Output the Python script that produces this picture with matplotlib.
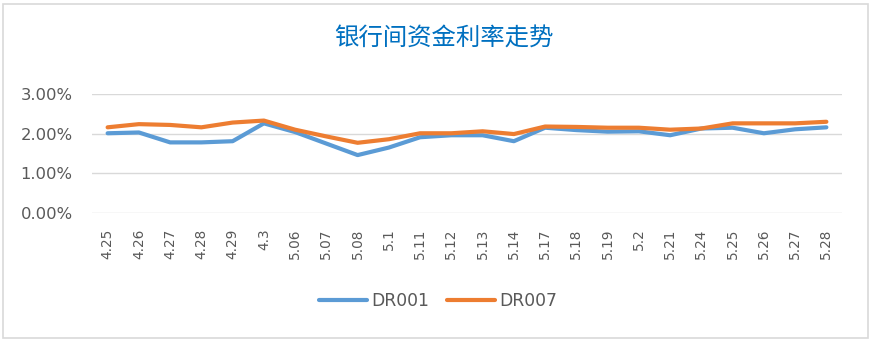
import matplotlib
matplotlib.use("Agg")
import matplotlib.pyplot as plt
from matplotlib.patches import Rectangle
from matplotlib.ticker import PercentFormatter

# Trading days and overnight / 7-day repo rates (%)
dates = ["4.25", "4.26", "4.27", "4.28", "4.29", "4.3", "5.06", "5.07", "5.08", "5.1",
         "5.11", "5.12", "5.13", "5.14", "5.17", "5.18", "5.19", "5.2", "5.21", "5.24",
         "5.25", "5.26", "5.27", "5.28"]
dr001 = [2.01, 2.03, 1.78, 1.78, 1.81, 2.26, 2.04, 1.75, 1.46, 1.65,
         1.91, 1.96, 1.96, 1.81, 2.15, 2.09, 2.05, 2.06, 1.96, 2.13,
         2.15, 2.01, 2.11, 2.16]
dr007 = [2.16, 2.24, 2.22, 2.16, 2.28, 2.33, 2.10, 1.93, 1.77, 1.86,
         2.01, 2.01, 2.06, 1.99, 2.18, 2.17, 2.15, 2.15, 2.10, 2.13,
         2.26, 2.26, 2.26, 2.30]
yticks = [0, 1, 2, 3]

W, H = 871, 340
fig = plt.figure(figsize=(W / 100, H / 100), dpi=100)
fig.patch.set_facecolor("white")

# outer chart frame
fig.patches.append(Rectangle((2.5 / W, 2.5 / H), (W - 6) / W, (H - 6) / H,
                             transform=fig.transFigure, fill=False,
                             edgecolor="#D9D9D9", linewidth=1.2))

ax = fig.add_axes([92 / W, 127 / H, 750 / W, 119 / H])
x = list(range(len(dates)))
ax.plot(x, dr001, color="#5B9BD5", linewidth=3.0, label="DR001", solid_capstyle="round")
ax.plot(x, dr007, color="#ED7D31", linewidth=3.0, label="DR007", solid_capstyle="round")

ax.set_xlim(-0.5, len(dates) - 0.5)
ax.set_ylim(0, 3)
ax.set_yticks(yticks)
ax.yaxis.set_major_formatter(PercentFormatter(decimals=2))
ax.set_xticks(x)
ax.set_xticklabels(dates, rotation=90)
ax.grid(axis="y", color="#D9D9D9", linewidth=1.0)
ax.set_axisbelow(True)
for s in ax.spines.values():
    s.set_visible(False)
ax.tick_params(axis="both", length=0, colors="#595959")
ax.tick_params(axis="y", pad=14, labelsize=11.8)
ax.tick_params(axis="x", pad=11, labelsize=9.8)
for lab in ax.get_xticklabels() + ax.get_yticklabels():
    lab.set_family(["DejaVu Sans"])

fig.text(444 / W, 1 - 38.5 / H, "银行间资金利率走势", ha="center", va="center",
         fontsize=17.6, color="#0070C0", family=["Noto Sans CJK SC", "DejaVu Sans"])

leg = fig.legend(loc="center", bbox_to_anchor=(438 / W, 1 - 301.5 / H), ncol=2,
                 frameon=False, handlelength=2.8, handletextpad=0.22,
                 columnspacing=1.05, prop={"family": ["DejaVu Sans"], "size": 12.4})
for t in leg.get_texts():
    t.set_color("#595959")

fig.savefig("out.png", dpi=100, facecolor="white")
